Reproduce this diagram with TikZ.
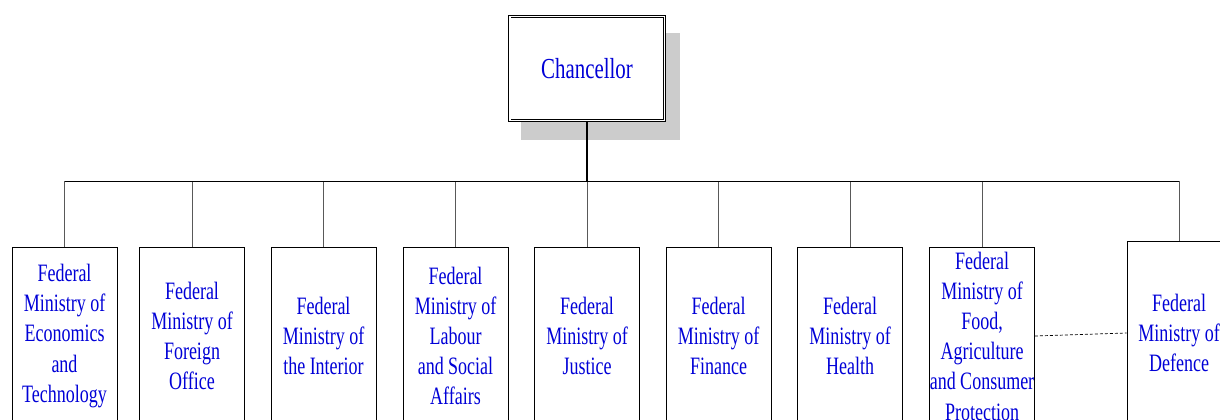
\documentclass[tikz,border=0pt]{standalone}
\usepackage{fontspec}
\setmainfont{Liberation Serif}[FakeStretch=0.72]
\usetikzlibrary{shadows}
\definecolor{txtblue}{RGB}{0,0,215}
\definecolor{shadowgray}{RGB}{204,204,204}
\tikzset{
  minbox/.style={draw=black, line width=0.8pt, minimum width=105pt, minimum height=178pt,
    inner sep=0pt, align=center, text=txtblue, font=\fontsize{25}{30.2}\selectfont},
  chief/.style={draw=black, fill=white, double=white, double distance=1.6pt, line width=0.9pt,
    minimum width=154.6pt, minimum height=103.6pt, inner sep=0pt, text=txtblue,
    font=\fontsize{29}{34}\selectfont,
    drop shadow={shadow xshift=13pt, shadow yshift=-17.5pt, shadow scale=1.03, fill=shadowgray, opacity=1, draw=none}},
  bus/.style={draw=black, line width=0.8pt},
  dropline/.style={draw=black!65, line width=0.7pt},
  trunk/.style={draw=black, line width=1.6pt},
  liaison/.style={draw=black, line width=0.7pt, dash pattern=on 3pt off 2pt}
}
\begin{document}
\begin{tikzpicture}[x=1pt,y=-1pt]
\useasboundingbox (0,0) rectangle (1220,420);
\clip (0,0) rectangle (1220,420);
\node[chief] (ch) at (587,68.5) {Chancellor};
\coordinate (bus) at (587,181);
\node[minbox] (b1) at (64.5,336) {Federal\\Ministry of\\Economics\\and\\Technology};
\node[minbox] (b2) at (192,336) {Federal\\Ministry of\\Foreign\\Office};
\node[minbox] (b3) at (323.5,336) {Federal\\Ministry of\\the Interior};
\node[minbox] (b4) at (455.5,336) {Federal\\Ministry of\\Labour\\and Social\\Affairs};
\node[minbox] (b5) at (587,336) {Federal\\Ministry of\\Justice};
\node[minbox] (b6) at (718.5,336) {Federal\\Ministry of\\Finance};
\node[minbox] (b7) at (850,336) {Federal\\Ministry of\\Health};
\node[minbox] (b8) at (982,336) {Federal\\Ministry of\\Food,\\Agriculture\\and Consumer\\Protection};
\node[minbox, minimum height=184pt, minimum width=104pt] (b9) at (1179,333) {Federal\\Ministry of\\Defence};
\foreach \b in {b1,b2,b3,b4,b5,b6,b7,b8,b9}
  \draw[dropline] (\b.north |- bus) -- (\b.north);
\draw[bus] (b1.north |- bus) -- (b9.north |- bus);
\draw[trunk] (ch.south) -- (bus);
\draw[liaison] (b8.east) -- (b9.west);
\end{tikzpicture}
\end{document}
